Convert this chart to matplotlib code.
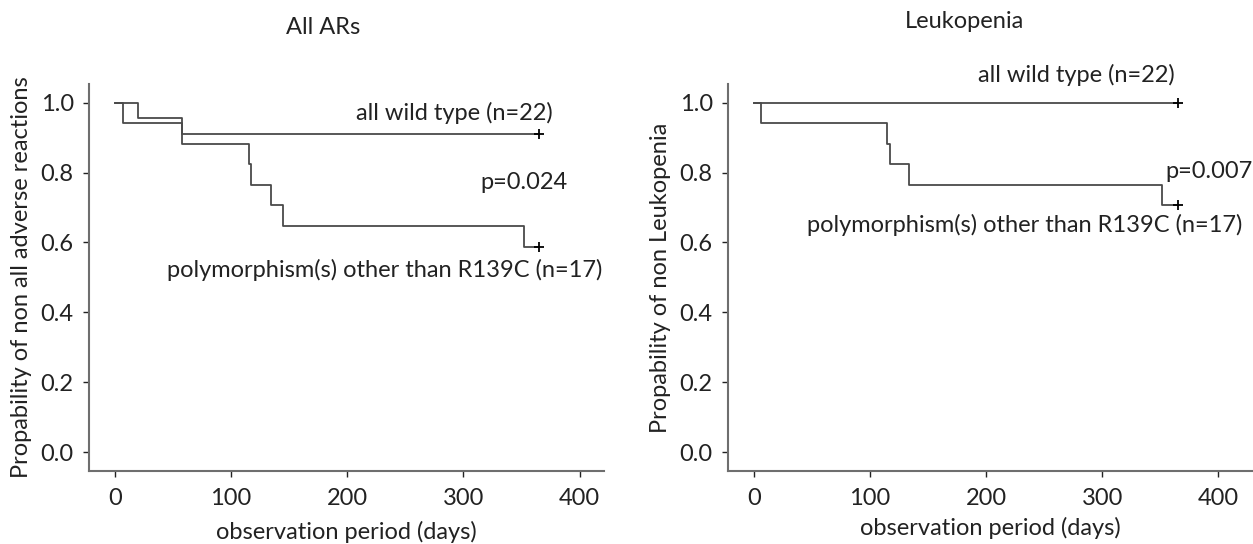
"""
Kaplan-Meier style curves: all wild type vs polymorphism(s) other than R139C.
Left panel: all adverse reactions, right panel: leukopenia.
"""
import matplotlib
matplotlib.use("Agg")
import matplotlib.pyplot as plt

plt.rcParams["font.family"] = ["Lato", "DejaVu Sans"]

# ---- data (days, survival probability) ----
all_wt_t   = [0, 20, 58, 365]
all_wt_s   = [1.0, 0.955, 0.909, 0.909]
all_poly_t = [0, 7, 58, 115, 117, 134, 145, 352, 365]
all_poly_s = [1.0, 0.941, 0.882, 0.824, 0.765, 0.706, 0.647, 0.588, 0.588]

leu_wt_t   = [0, 365]
leu_wt_s   = [1.0, 1.0]
leu_poly_t = [0, 6, 115, 117, 134, 352, 365]
leu_poly_s = [1.0, 0.941, 0.882, 0.824, 0.765, 0.706, 0.706]

xticks = [0, 100, 200, 300, 400]
yticks = [0.0, 0.2, 0.4, 0.6, 0.8, 1.0]

LC = "#4a4a4a"
SC = "#6e6e6e"
TC = "#222222"
FS = 17

fig = plt.figure(figsize=(12.53, 5.44), dpi=100)
axL = fig.add_axes([0.071, 0.134, 0.411, 0.712])
axR = fig.add_axes([0.581, 0.134, 0.419, 0.712])

def km(ax, t, s):
    ax.step(t, s, where="post", color=LC, lw=1.3)
    ax.plot(t[-1], s[-1], marker="+", color="black", ms=7, mew=1.3)

def style(ax, ylabel, xmax, xpad):
    ax.set_xlim(-22.4, xmax)
    ax.set_ylim(-0.054, 1.054)
    ax.set_xticks(xticks)
    ax.set_yticks(yticks)
    ax.set_yticklabels([f"{v:.1f}" for v in yticks])
    for sp in ["top", "right"]:
        ax.spines[sp].set_visible(False)
    for sp in ["left", "bottom"]:
        ax.spines[sp].set_color(SC)
        ax.spines[sp].set_linewidth(1.5)
    ax.tick_params(colors=TC, labelsize=FS, length=4, width=1, direction="out")
    ax.tick_params(axis="x", pad=8)
    ax.tick_params(axis="y", pad=7)
    ax.set_xlabel("observation period (days)", fontsize=FS, color=TC, labelpad=xpad)
    ax.set_ylabel(ylabel, fontsize=FS, color=TC, labelpad=6)

km(axL, all_wt_t, all_wt_s)
km(axL, all_poly_t, all_poly_s)
style(axL, "Propability of non all adverse reactions", 421, 9)
axL.text(377, 0.971, "all wild type (n=22)", ha="right", va="center", fontsize=FS, color=TC)
axL.text(390, 0.771, "p=0.024", ha="right", va="center", fontsize=FS, color=TC)
axL.text(420, 0.521, "polymorphism(s) other than R139C (n=17)", ha="right", va="center",
         fontsize=FS, color=TC)
fig.text(0.258, 0.949, "All ARs", ha="center", va="center", fontsize=FS, color=TC)

km(axR, leu_wt_t, leu_wt_s)
km(axR, leu_poly_t, leu_poly_s)
style(axR, "Propability of non Leukopenia", 430, 6)
axR.text(363, 1.08, "all wild type (n=22)", ha="right", va="center", fontsize=FS, color=TC,
         clip_on=False)
axR.text(430, 0.802, "p=0.007", ha="right", va="center", fontsize=FS, color=TC, clip_on=False)
axR.text(421, 0.65, "polymorphism(s) other than R139C (n=17)", ha="right", va="center",
         fontsize=FS, color=TC, clip_on=False)
fig.text(0.77, 0.96, "Leukopenia", ha="center", va="center", fontsize=FS, color=TC)

fig.savefig("out.png", dpi=100)
